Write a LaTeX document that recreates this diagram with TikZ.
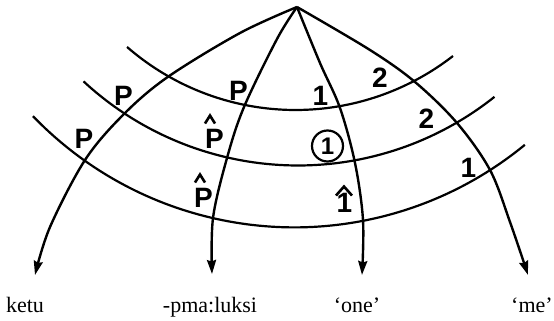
\documentclass[tikz,border=0pt]{standalone}
\usepackage{fontspec}
\setmainfont{Liberation Serif}
\newfontfamily\letterfont{Liberation Sans Bold}
\usetikzlibrary{arrows.meta}
\begin{document}
\begin{tikzpicture}[x=1pt,y=-1pt,
  arcline/.style={line width=2.2pt},
  meridian/.style={line width=2.4pt, line join=round,
    -{Stealth[length=14pt,width=9pt,inset=1.5pt]}},
  hatline/.style={line width=2.6pt, line join=miter},
  lett/.style={font=\letterfont\fontsize{28}{28}\selectfont, inner sep=0pt, anchor=base},
  gloss/.style={font=\fontsize{22}{22}\selectfont, inner sep=0pt, anchor=base},
  ringed/.style={draw, circle, line width=2.2pt, minimum size=31pt, inner sep=0pt,
    font=\letterfont\fontsize{24}{24}\selectfont}]
\useasboundingbox (0,0) rectangle (554,321);

% apex and named points
\coordinate (apex) at (297,7);
% meridian 1
\coordinate (m1a) at (240,33);
\coordinate (m1b) at (167,77.5);
\coordinate (m1c) at (123,115);
\coordinate (m1d) at (85,160);
\coordinate (m1e) at (50,227);
\coordinate (m1t) at (35,275);
% meridian 2
\coordinate (m2a) at (277,39);
\coordinate (m2b) at (244,107);
\coordinate (m2c) at (227,158);
\coordinate (m2d) at (213,218);
\coordinate (m2t) at (212,274);
% meridian 3
\coordinate (m3a) at (320,63);
\coordinate (m3b) at (340,108);
\coordinate (m3c) at (355,163);
\coordinate (m3d) at (363,220);
\coordinate (m3t) at (362,275);
% meridian 4
\coordinate (m4a) at (370,50);
\coordinate (m4b) at (415,82);
\coordinate (m4c) at (457,123);
\coordinate (m4d) at (490,170);
\coordinate (m4e) at (510,222);
\coordinate (m4t) at (528,275);

% arcs (circular)
\draw[arcline] plot[domain=131.02:52.15, samples=90] ({295.5+256.7*cos(\x)}, {-146.7+256.7*sin(\x)});
\draw[arcline] plot[domain=132.83:51.48, samples=90] ({298+315.5*cos(\x)}, {-150+315.5*sin(\x)});
\draw[arcline] plot[domain=136.1:50.57, samples=90] ({294.4+362.9*cos(\x)}, {-135.5+362.9*sin(\x)});

% meridians
\draw[meridian] plot[smooth, tension=0.55] coordinates {(apex) (m1a) (m1b) (m1c) (m1d) (m1e) (m1t)};
\draw[meridian] plot[smooth, tension=0.55] coordinates {(apex) (m2a) (m2b) (m2c) (m2d) (m2t)};
\draw[meridian] plot[smooth, tension=0.55] coordinates {(apex) (m3a) (m3b) (m3c) (m3d) (m3t)};
\draw[meridian] plot[smooth, tension=0.55] coordinates {(apex) (m4a) (m4b) (m4c) (m4d) (m4e) (m4t)};

% lettering
\node[lett] (p1) at (84,148) {P};
\node[lett] (p2) at (123.5,105) {P};
\node[lett] (p3) at (238.5,100) {P};
\node[lett] (ph1) at (214.5,148) {P};
\node[lett] (ph2) at (203.5,207) {P};
\node[lett] (one1) at (320.5,105) {1};
\node[lett] (two1) at (380,88) {2};
\node[lett] (two2) at (426.5,128) {2};
\node[lett] (one2) at (468.5,177) {1};
\node[lett] (oneh) at (344.5,212) {1};
\node[ringed] (onec) at (327.5,146) {1};

% circumflex marks
\draw[hatline] (ph1.north) ++(-9.5,-5) -- ++(5,-8) -- ++(5,8);
\draw[hatline] (ph2.north) ++(-8.5,-5) -- ++(5,-8) -- ++(5,8);
\draw[hatline] (oneh.north) ++(-8.5,3) -- ++(8,-9) -- ++(8,9);

% glosses
\node[gloss] (g1) at (25,312) {ketu};
\node[gloss] (g2) at (210,312) {-pma:luksi};
\node[gloss] (g3) at (357,312) {‘one’};
\node[gloss] (g4) at (532,312) {‘me’};
\end{tikzpicture}
\end{document}
